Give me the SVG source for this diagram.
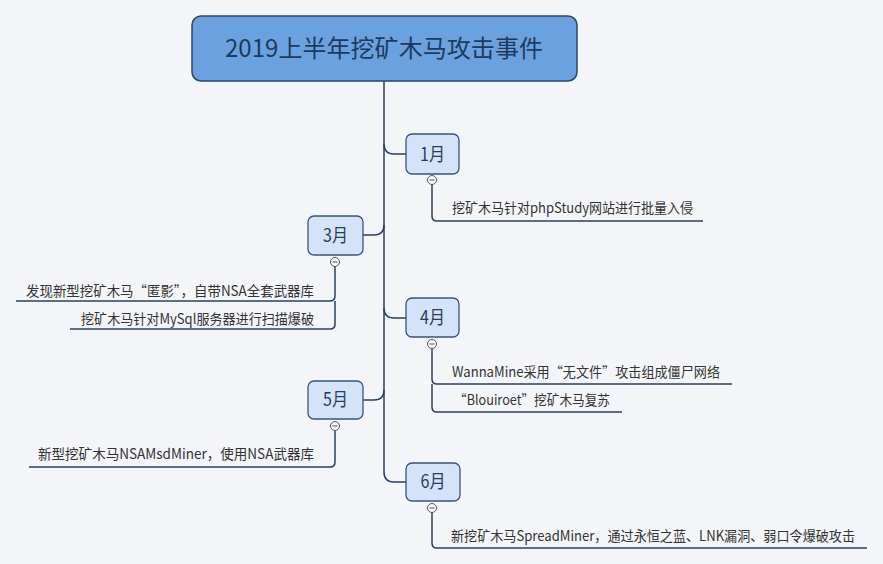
<svg xmlns="http://www.w3.org/2000/svg" width="883" height="564" viewBox="0 0 883 564">
<style>
.bg{fill:#f3f5f9}
.root{fill:#6ca1df;stroke:#2a4668;stroke-width:1.5}
.title{font-family:"Noto Sans CJK SC","Noto Sans",sans-serif;font-size:24px;fill:#1d3a60;text-anchor:middle}
.box{fill:#d5e3f9;stroke:#3b5478;stroke-width:1.3}
.mt{font-family:"Noto Sans CJK SC","Noto Sans",sans-serif;font-size:18px;fill:#2b3c58;text-anchor:middle}
.ln{fill:none;stroke:#2c405e;stroke-width:1.5}
.tx{font-family:"Noto Sans CJK SC","Noto Sans",sans-serif;font-size:14px;fill:#333}
.r{text-anchor:end}
.cc{fill:#f6f7fa;stroke:#555;stroke-width:1}
.cm{stroke:#555;stroke-width:1}
</style>
<rect class="bg" x="0" y="0" width="883" height="564"/>
<g id="connectors">
<path class="ln" d="M384 81 V472 Q384 482 394 482 H406"/>
<path class="ln" d="M384 144 Q384 154 394 154 H406"/>
<path class="ln" d="M363 235 H374 Q384 235 384 225"/>
<path class="ln" d="M384 308 Q384 318 394 318 H406"/>
<path class="ln" d="M363 400 H374 Q384 400 384 390"/>
<path class="ln" d="M432 184 V216 Q432 221 437 221 H703"/>
<path class="ln" d="M335 266 V296 Q335 301 330 301 H16"/>
<path class="ln" d="M335 301 V324 Q335 329 330 329 H70"/>
<path class="ln" d="M432 348 V379 Q432 384 437 384 H732"/>
<path class="ln" d="M432 384 V407 Q432 412 437 412 H622"/>
<path class="ln" d="M335 430 V462 Q335 467 330 467 H29"/>
<path class="ln" d="M432 512 V543 Q432 548 437 548 H867"/>
</g>
<g id="root">
<rect class="root" x="192" y="16" width="385" height="65" rx="9"/>
<text class="title" x="384" y="57" textLength="318" lengthAdjust="spacingAndGlyphs">2019上半年挖矿木马攻击事件</text>
</g>
<g id="m1">
<rect class="box" x="406" y="134" width="53" height="40" rx="6"/>
<text class="mt" x="432.5" y="161" textLength="25" lengthAdjust="spacingAndGlyphs">1月</text>
<circle class="cc" cx="432" cy="180" r="4.5"/><line class="cm" x1="429.5" y1="180" x2="434.5" y2="180"/>
</g>
<g id="m1c1"><text class="tx" x="452" y="213" textLength="241" lengthAdjust="spacingAndGlyphs">挖矿木马针对phpStudy网站进行批量入侵</text></g>
<g id="m3">
<rect class="box" x="308" y="216" width="55" height="39" rx="6"/>
<text class="mt" x="335.5" y="242" textLength="25" lengthAdjust="spacingAndGlyphs">3月</text>
<circle class="cc" cx="335" cy="262" r="4.5"/><line class="cm" x1="332.5" y1="262" x2="337.5" y2="262"/>
</g>
<g id="m3c1"><text class="tx r" x="314" y="296" textLength="288" lengthAdjust="spacingAndGlyphs">发现新型挖矿木马“匿影”，自带NSA全套武器库</text></g>
<g id="m3c2"><text class="tx r" x="314" y="324" textLength="233" lengthAdjust="spacingAndGlyphs">挖矿木马针对MySql服务器进行扫描爆破</text></g>
<g id="m4">
<rect class="box" x="406" y="298" width="53" height="39" rx="6"/>
<text class="mt" x="432.5" y="324" textLength="25" lengthAdjust="spacingAndGlyphs">4月</text>
<circle class="cc" cx="432" cy="344" r="4.5"/><line class="cm" x1="429.5" y1="344" x2="434.5" y2="344"/>
</g>
<g id="m4c1"><text class="tx" x="452" y="377" textLength="268" lengthAdjust="spacingAndGlyphs">WannaMine采用“无文件”攻击组成僵尸网络</text></g>
<g id="m4c2"><text class="tx" x="454" y="405" textLength="156" lengthAdjust="spacingAndGlyphs">“Blouiroet”挖矿木马复苏</text></g>
<g id="m5">
<rect class="box" x="308" y="381" width="55" height="38" rx="6"/>
<text class="mt" x="335.5" y="406" textLength="25" lengthAdjust="spacingAndGlyphs">5月</text>
<circle class="cc" cx="335" cy="426" r="4.5"/><line class="cm" x1="332.5" y1="426" x2="337.5" y2="426"/>
</g>
<g id="m5c1"><text class="tx r" x="314" y="459" textLength="276" lengthAdjust="spacingAndGlyphs">新型挖矿木马NSAMsdMiner，使用NSA武器库</text></g>
<g id="m6">
<rect class="box" x="406" y="463" width="54" height="38" rx="6"/>
<text class="mt" x="433" y="488" textLength="25" lengthAdjust="spacingAndGlyphs">6月</text>
<circle class="cc" cx="432" cy="508" r="4.5"/><line class="cm" x1="429.5" y1="508" x2="434.5" y2="508"/>
</g>
<g id="m6c1"><text class="tx" x="451" y="541" textLength="404" lengthAdjust="spacingAndGlyphs">新挖矿木马SpreadMiner，通过永恒之蓝、LNK漏洞、弱口令爆破攻击</text></g>
</svg>
